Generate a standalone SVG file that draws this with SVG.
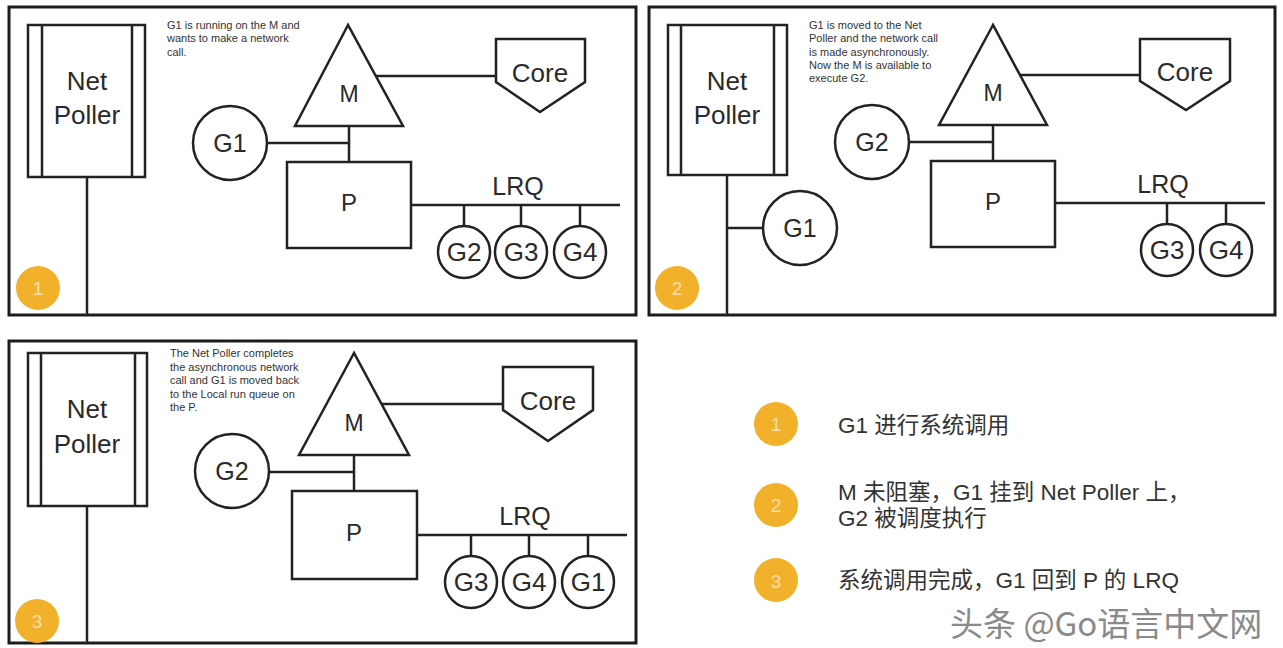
<svg xmlns="http://www.w3.org/2000/svg" width="1283" height="648" viewBox="0 0 1283 648">
<style>
.bg{fill:#fff}
.frame{fill:#fff;stroke:#1c1c1c;stroke-width:3}
.sh{fill:#fff;stroke:#222;stroke-width:2.5}
.ln{fill:none;stroke:#222;stroke-width:2.5}
.t{font-family:"Liberation Sans",Arial,sans-serif;fill:#2a2a2a;text-anchor:middle}
.big{font-size:26px}
.g{font-size:25px}
.gs{font-size:26px}
.small{font-family:"Liberation Sans",Arial,sans-serif;font-size:11px;fill:#333}
.badge{fill:#F2B12B}
.bn{font-family:"Liberation Sans",Arial,sans-serif;font-size:19px;fill:#fff;fill-opacity:0.6;text-anchor:middle}
.leg{font-family:"Liberation Sans","Noto Sans CJK SC",sans-serif;font-size:22.5px;fill:#333}
.wm{font-family:"Noto Sans CJK SC",sans-serif;font-size:33px;fill:#8a8a8a}
</style>
<rect class="bg" x="0" y="0" width="1283" height="648"/>

<!-- Panel 1 -->
<g id="panel1">
  <rect class="frame" x="9" y="7" width="627" height="308"/>
  <g id="p1-connectors">
    <line class="ln" x1="87" y1="177" x2="87" y2="315"/>
    <line class="ln" x1="376" y1="76" x2="496" y2="76"/>
    <line class="ln" x1="349" y1="126" x2="349" y2="162"/>
    <line class="ln" x1="267" y1="143" x2="349" y2="143"/>
    <line class="ln" x1="411" y1="205" x2="620" y2="205"/>
    <line class="ln" x1="464" y1="205" x2="464" y2="226"/>
    <line class="ln" x1="521" y1="205" x2="521" y2="226"/>
    <line class="ln" x1="580" y1="205" x2="580" y2="226"/>
  </g>
  <g id="p1-netpoller">
    <rect class="sh" x="28" y="25" width="117" height="152"/>
    <line class="ln" x1="42" y1="25" x2="42" y2="177"/>
    <line class="ln" x1="132" y1="25" x2="132" y2="177"/>
    <text class="t big" x="87" y="90">Net</text>
    <text class="t big" x="87" y="124">Poller</text>
  </g>
  <g id="p1-note">
    <text class="small" x="167" y="29">G1 is running on the M and</text>
    <text class="small" x="167" y="42.4">wants to make a network</text>
    <text class="small" x="167" y="55.8">call.</text>
  </g>
  <g id="p1-m">
    <polygon class="sh" points="348,25 295,126 403,126"/>
    <text class="t" font-size="23" x="349" y="102">M</text>
  </g>
  <g id="p1-core">
    <polygon class="sh" points="496,39 585,39 585,82 540,112 496,82"/>
    <text class="t big" x="540" y="82">Core</text>
  </g>
  <g id="p1-p">
    <rect class="sh" x="287" y="162" width="124" height="86"/>
    <text class="t" font-size="24" x="349" y="211">P</text>
  </g>
  <g id="p1-g1">
    <circle class="sh" cx="230" cy="143" r="37"/>
    <text class="t g" x="230" y="152">G1</text>
  </g>
  <text class="t g" x="518" y="195">LRQ</text>
  <g id="p1-g2"><circle class="sh" cx="464" cy="252" r="26"/><text class="t gs" x="464" y="261">G2</text></g>
  <g id="p1-g3"><circle class="sh" cx="521" cy="252" r="26"/><text class="t gs" x="521" y="261">G3</text></g>
  <g id="p1-g4"><circle class="sh" cx="580" cy="252" r="26"/><text class="t gs" x="580" y="261">G4</text></g>
  <g id="p1-badge"><circle class="badge" cx="38" cy="288" r="22"/><text class="bn" x="38" y="295">1</text></g>
</g>

<!-- Panel 2 -->
<g id="panel2">
  <rect class="frame" x="649" y="7" width="626" height="308"/>
  <g id="p2-connectors">
    <line class="ln" x1="727" y1="175" x2="727" y2="315"/>
    <line class="ln" x1="727" y1="228" x2="763" y2="228"/>
    <line class="ln" x1="909" y1="142" x2="993" y2="142"/>
    <line class="ln" x1="1020" y1="75" x2="1140" y2="75"/>
    <line class="ln" x1="993" y1="125" x2="993" y2="161"/>
    <line class="ln" x1="1055" y1="203" x2="1265" y2="203"/>
    <line class="ln" x1="1167" y1="203" x2="1167" y2="224"/>
    <line class="ln" x1="1226" y1="203" x2="1226" y2="224"/>
  </g>
  <g id="p2-netpoller">
    <rect class="sh" x="668" y="25" width="119" height="150"/>
    <line class="ln" x1="681" y1="25" x2="681" y2="175"/>
    <line class="ln" x1="774" y1="25" x2="774" y2="175"/>
    <text class="t big" x="727" y="90">Net</text>
    <text class="t big" x="727" y="124">Poller</text>
  </g>
  <g id="p2-note">
    <text class="small" x="809" y="29">G1 is moved to the Net</text>
    <text class="small" x="809" y="42.3">Poller and the network call</text>
    <text class="small" x="809" y="55.6">is made asynchronously.</text>
    <text class="small" x="809" y="68.9">Now the M is available to</text>
    <text class="small" x="809" y="82.2">execute G2.</text>
  </g>
  <g id="p2-m">
    <polygon class="sh" points="993,25 939,125 1047,125"/>
    <text class="t" font-size="23" x="993" y="101">M</text>
  </g>
  <g id="p2-core">
    <polygon class="sh" points="1140,39 1230,39 1230,81 1186,110 1140,81"/>
    <text class="t big" x="1185" y="81">Core</text>
  </g>
  <g id="p2-p">
    <rect class="sh" x="931" y="161" width="124" height="86"/>
    <text class="t" font-size="24" x="993" y="210">P</text>
  </g>
  <g id="p2-g2">
    <circle class="sh" cx="872" cy="142" r="37"/>
    <text class="t g" x="872" y="151">G2</text>
  </g>
  <g id="p2-g1">
    <circle class="sh" cx="800" cy="228" r="37"/>
    <text class="t g" x="800" y="237">G1</text>
  </g>
  <text class="t g" x="1163" y="193">LRQ</text>
  <g id="p2-g3"><circle class="sh" cx="1167" cy="250" r="26"/><text class="t gs" x="1167" y="259">G3</text></g>
  <g id="p2-g4"><circle class="sh" cx="1226" cy="250" r="26"/><text class="t gs" x="1226" y="259">G4</text></g>
  <g id="p2-badge"><circle class="badge" cx="677" cy="288" r="22"/><text class="bn" x="677" y="295">2</text></g>
</g>

<!-- Panel 3 -->
<g id="panel3">
  <rect class="frame" x="9" y="341" width="627" height="302"/>
  <g id="p3-connectors">
    <line class="ln" x1="87" y1="506" x2="87" y2="643"/>
    <line class="ln" x1="269" y1="472" x2="354" y2="472"/>
    <line class="ln" x1="381" y1="404" x2="503" y2="404"/>
    <line class="ln" x1="354" y1="455" x2="354" y2="491"/>
    <line class="ln" x1="417" y1="535" x2="627" y2="535"/>
    <line class="ln" x1="471" y1="535" x2="471" y2="556"/>
    <line class="ln" x1="529" y1="535" x2="529" y2="556"/>
    <line class="ln" x1="588" y1="535" x2="588" y2="556"/>
  </g>
  <g id="p3-netpoller">
    <rect class="sh" x="28" y="353" width="119" height="153"/>
    <line class="ln" x1="41" y1="353" x2="41" y2="506"/>
    <line class="ln" x1="135" y1="353" x2="135" y2="506"/>
    <text class="t big" x="87" y="418">Net</text>
    <text class="t big" x="87" y="453">Poller</text>
  </g>
  <g id="p3-note">
    <text class="small" x="170" y="357">The Net Poller completes</text>
    <text class="small" x="170" y="370.5">the asynchronous network</text>
    <text class="small" x="170" y="384">call and G1 is moved back</text>
    <text class="small" x="170" y="397.5">to the Local run queue on</text>
    <text class="small" x="170" y="411">the P.</text>
  </g>
  <g id="p3-m">
    <polygon class="sh" points="354,353 299,455 409,455"/>
    <text class="t" font-size="23" x="354" y="431">M</text>
  </g>
  <g id="p3-core">
    <polygon class="sh" points="503,367 593,367 593,410 548,441 503,410"/>
    <text class="t big" x="548" y="410">Core</text>
  </g>
  <g id="p3-p">
    <rect class="sh" x="292" y="491" width="125" height="88"/>
    <text class="t" font-size="24" x="354" y="541">P</text>
  </g>
  <g id="p3-g2">
    <circle class="sh" cx="232" cy="471" r="37"/>
    <text class="t g" x="232" y="480">G2</text>
  </g>
  <text class="t g" x="525" y="525">LRQ</text>
  <g id="p3-g3"><circle class="sh" cx="471" cy="582" r="26"/><text class="t gs" x="471" y="591">G3</text></g>
  <g id="p3-g4"><circle class="sh" cx="529" cy="582" r="26"/><text class="t gs" x="529" y="591">G4</text></g>
  <g id="p3-g1"><circle class="sh" cx="588" cy="582" r="26"/><text class="t gs" x="588" y="591">G1</text></g>
  <g id="p3-badge"><circle class="badge" cx="37" cy="621" r="22"/><text class="bn" x="37" y="628">3</text></g>
</g>

<!-- Legend -->
<g id="legend">
  <g id="leg1"><circle class="badge" cx="776" cy="424" r="22"/><text class="bn" x="776" y="431">1</text>
    <text class="leg" x="838" y="433">G1 进行系统调用</text></g>
  <g id="leg2"><circle class="badge" cx="776" cy="505" r="22"/><text class="bn" x="776" y="512">2</text>
    <text class="leg" x="838" y="500">M 未阻塞，G1 挂到 Net Poller 上，</text>
    <text class="leg" x="838" y="526">G2 被调度执行</text></g>
  <g id="leg3"><circle class="badge" cx="776" cy="580" r="22"/><text class="bn" x="776" y="588">3</text>
    <text class="leg" x="838" y="588">系统调用完成，G1 回到 P 的 LRQ</text></g>
</g>
<text class="wm" x="950" y="636">头条 @Go语言中文网</text>
</svg>
